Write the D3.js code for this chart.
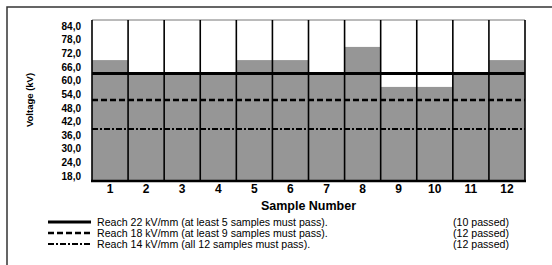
<!DOCTYPE html>
<html>
<head>
<meta charset="utf-8">
<script src="https://cdn.jsdelivr.net/npm/d3@7"></script>
<style>
  body { margin: 0; background: #fff; }
  svg { display: block; font-family: "Liberation Sans", Arial, sans-serif; }
</style>
</head>
<body>
<div id="chart"></div>
<script>
// chart data
var samples = ["1","2","3","4","5","6","7","8","9","10","11","12"]
var voltage = [69.0, 63.1, 63.1, 63.1, 69.0, 69.0, 63.1, 74.8, 57.2, 57.2, 63.1, 69.0]
var yTicks = [18, 24, 30, 36, 42, 48, 54, 60, 66, 72, 78, 84]
var limitValues = [63.1, 51.4, 38.7]
var limitNames = ["Reach 22 kV/mm (at least 5 samples must pass).",
                  "Reach 18 kV/mm (at least 9 samples must pass).",
                  "Reach 14 kV/mm (all 12 samples must pass)."]
var limitResults = ["(10 passed)", "(12 passed)", "(12 passed)"]
var limitDash = [null, "6,3", "6,2,2,2"]
var limitWidth = [3, 2.5, 2]

var w = 552, h = 265
var plotTop = 20, plotBottom = 181, plotLeft = 92, plotRight = 525

var svg = d3.select('#chart').append('svg')
  .attr('width', w)
  .attr('height', h)

// outer frame (runs off the right and bottom)
svg.append('rect')
  .attr('x', 7).attr('y', 7)
  .attr('width', 600).attr('height', 300)
  .attr('fill', 'none')
  .attr('stroke', '#333')
  .attr('stroke-width', 1.5)

var x = d3.scaleBand()
  .domain(samples)
  .range([plotLeft, plotRight])
  .padding(0)

var y = d3.scaleLinear()
  .domain([18, 84])
  .range([176, 26])

// bars
svg.selectAll('rect.bar')
  .data(voltage)
  .enter()
  .append('rect')
  .attr('class', 'bar')
  .attr('x', function(d, i) { return x(samples[i]) })
  .attr('width', x.bandwidth())
  .attr('y', function(d) { return y(d) })
  .attr('height', function(d) { return plotBottom - y(d) })
  .attr('fill', '#969696')

// top edge of plot
svg.append('line')
  .attr('x1', plotLeft).attr('x2', plotRight)
  .attr('y1', plotTop).attr('y2', plotTop)
  .attr('stroke', '#777').attr('stroke-width', 1)

// column separators
var edges = samples.map(function(s) { return x(s) }).concat([plotRight])
svg.selectAll('line.sep')
  .data(edges)
  .enter()
  .append('line')
  .attr('class', 'sep')
  .attr('x1', function(d) { return d }).attr('x2', function(d) { return d })
  .attr('y1', plotTop).attr('y2', plotBottom)
  .attr('stroke', '#000')
  .attr('stroke-width', 1.6)

// limit lines
svg.selectAll('line.limit')
  .data(limitValues)
  .enter()
  .append('line')
  .attr('class', 'limit')
  .attr('x1', plotLeft).attr('x2', plotRight)
  .attr('y1', function(d) { return y(d) }).attr('y2', function(d) { return y(d) })
  .attr('stroke', '#000')
  .attr('stroke-width', function(d, i) { return limitWidth[i] })
  .attr('stroke-dasharray', function(d, i) { return limitDash[i] })

// bottom axis line
svg.append('line')
  .attr('x1', plotLeft - 1).attr('x2', plotRight + 1)
  .attr('y1', plotBottom).attr('y2', plotBottom)
  .attr('stroke', '#000').attr('stroke-width', 2.5)

// y tick labels
var yAxis = d3.axisLeft(y)
  .tickValues(yTicks)
  .tickSize(0)
  .tickPadding(0)
  .tickFormat(function(d) { return d3.format('.1f')(d).replace('.', ',') })

var gy = svg.append('g')
  .attr('transform', 'translate(81,0)')
  .call(yAxis)
gy.select('.domain').remove()
gy.selectAll('text')
  .attr('font-family', '"Liberation Sans", Arial, sans-serif')
  .attr('font-size', 10)
  .attr('font-weight', 'bold')
  .attr('fill', '#000')

// x tick labels
var xAxis = d3.axisBottom(x).tickSize(0).tickPadding(0)
var gx = svg.append('g')
  .attr('transform', 'translate(0,184)')
  .call(xAxis)
gx.select('.domain').remove()
gx.selectAll('text')
  .attr('font-family', '"Liberation Sans", Arial, sans-serif')
  .attr('font-size', 12)
  .attr('font-weight', 'bold')
  .attr('fill', '#000')

// axis titles
svg.append('text')
  .attr('x', (plotLeft + plotRight) / 2)
  .attr('y', 210)
  .attr('text-anchor', 'middle')
  .attr('font-size', 12.5)
  .attr('font-weight', 'bold')
  .text('Sample Number')

svg.append('text')
  .attr('transform', 'translate(33,100) rotate(-90)')
  .attr('text-anchor', 'middle')
  .attr('font-size', 9.5)
  .attr('font-weight', 'bold')
  .text('Voltage (kV)')

// legend
var legend = svg.selectAll('g.legend')
  .data(limitNames)
  .enter()
  .append('g')
  .attr('class', 'legend')
  .attr('transform', function(d, i) { return 'translate(0,' + (222 + i * 11) + ')' })

legend.append('line')
  .attr('x1', 48).attr('x2', 91)
  .attr('y1', 0).attr('y2', 0)
  .attr('stroke', '#000')
  .attr('stroke-width', function(d, i) { return limitWidth[i] })
  .attr('stroke-dasharray', function(d, i) { return limitDash[i] })

legend.append('text')
  .attr('x', 97).attr('y', 4)
  .attr('font-size', 10.6)
  .attr('fill', '#000')
  .text(function(d) { return d })

legend.append('text')
  .attr('x', 453).attr('y', 4)
  .attr('font-size', 10.6)
  .attr('fill', '#000')
  .text(function(d, i) { return limitResults[i] })
</script>
</body>
</html>
